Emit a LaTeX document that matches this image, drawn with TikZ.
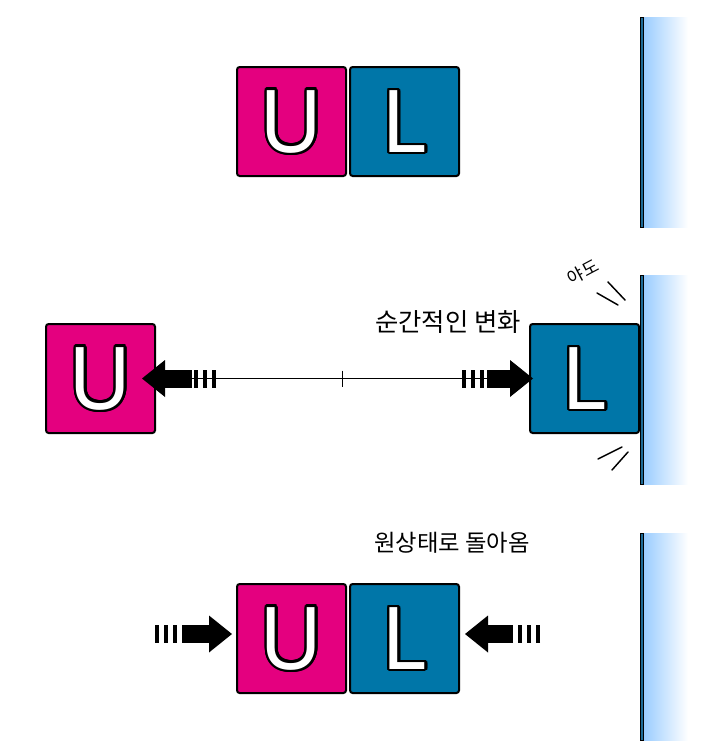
\documentclass[tikz,border=0pt]{standalone}
\usepackage{fontspec}
\setmainfont{Noto Sans}
\newfontfamily\krfont{Noto Sans CJK KR}
\usepackage{tikz}
\usetikzlibrary{calc,positioning,arrows.meta}
\definecolor{magentabox}{HTML}{E4007F}
\definecolor{bluebox}{HTML}{0076A8}
\definecolor{wallblue}{HTML}{99CCFF}
\definecolor{walledge}{HTML}{1D6A96}

% white letter with a black rim
\newcommand\rimmed[1]{%
  \foreach \a in {0,20,...,340}{%
    \pgfmathsetlengthmacro\dx{1.8pt*cos(\a)}%
    \pgfmathsetlengthmacro\dy{1.8pt*sin(\a)}%
    \rlap{\kern\dx\raisebox{\dy}{\color{black}#1}}}%
  {\color{white}#1}}

\begin{document}
\begin{tikzpicture}[
  x=0.75pt,y=-0.75pt,
  box/.style={draw=black,line width=1.5pt,rounded corners=2pt,
              minimum size=81.75pt,inner sep=0pt,
              font=\fontsize{65}{65}\selectfont},
  ubox/.style={box,fill=magentabox},
  lbox/.style={box,fill=bluebox},
  fat/.style={line width=13.5pt,
              -{Triangle[length=17.25pt,width=27.75pt,line width=0pt]}},
  stripes/.style={line width=13.5pt,dash pattern=on 3pt off 3.75pt},
  note/.style={font=\krfont\fontsize{17.5}{17.5}\selectfont},
  wiggle/.style={line width=1.1pt,line cap=round}
]
  \useasboundingbox (0,0) rectangle (718,753);
  \fill[white] (0,0) rectangle (718,753);

  % walls
  \foreach \ya/\yb in {17/227,275/484,533/740}{
    \shade[left color=wallblue,right color=white] (643,\ya) rectangle (688,\yb);
    \draw[fill=walledge,line width=0.5pt] (640.5,\ya) rectangle (643.5,\yb);
  }

  % blocks
  \node[ubox] (u1) at (291.5,121.5) {\rimmed{U}};
  \node[lbox,right=1.5pt of u1] (l1) {\rimmed{L}};
  \node[ubox] (u2) at (100.5,378.5) {\rimmed{U}};
  \node[lbox] (l2) at (584.5,378.5) {\rimmed{L}};
  \node[ubox] (u3) at (291.5,638.5) {\rimmed{U}};
  \node[lbox,right=1.5pt of u3] (l3) {\rimmed{L}};

  % middle row
  \draw[line width=0.8pt] (u2.east) -- coordinate (m2) (l2.west);
  \draw[line width=0.8pt] (m2) ++(0,-8) -- ++(0,16);

  \coordinate (s2a) at (216,378.5);
  \coordinate (b2a) at (192,378.5);
  \coordinate (s2b) at (462,378.5);
  \coordinate (b2b) at (487,378.5);
  \draw[stripes] (s2a) -- (b2a);
  \draw[fat,shorten >=-10.5pt] (b2a) -- (u2.east);
  \draw[stripes] (s2b) -- (b2b);
  \draw[fat,shorten >=-3pt] (b2b) -- (l2.west);

  \node[note,font=\krfont\fontsize{19}{19}\selectfont] (n2) at (448,322) {순간적인 변화};
  \node[font=\krfont\fontsize{13}{13}\selectfont,rotate=28] (n4) at (583,272) {야도};
  \draw[wiggle] (597,293) -- (618,305);
  \draw[wiggle] (608,282) -- (625,300);
  \draw[wiggle] (598,459) -- (622,447);
  \draw[wiggle] (612,470) -- (628,452);

  % bottom row
  \coordinate (s3a) at (155,634);
  \coordinate (b3a) at (182,634);
  \coordinate (s3b) at (540,634);
  \coordinate (b3b) at (513,634);
  \draw[stripes] (s3a) -- (b3a);
  \draw[fat,shorten >=3pt] (b3a) -- (u3.west |- b3a);
  \draw[stripes] (s3b) -- (b3b);
  \draw[fat,shorten >=3.75pt] (b3b) -- (l3.east |- b3b);

  \node[note] (n3) at (452,543) {원상태로 돌아옴};
\end{tikzpicture}
\end{document}
